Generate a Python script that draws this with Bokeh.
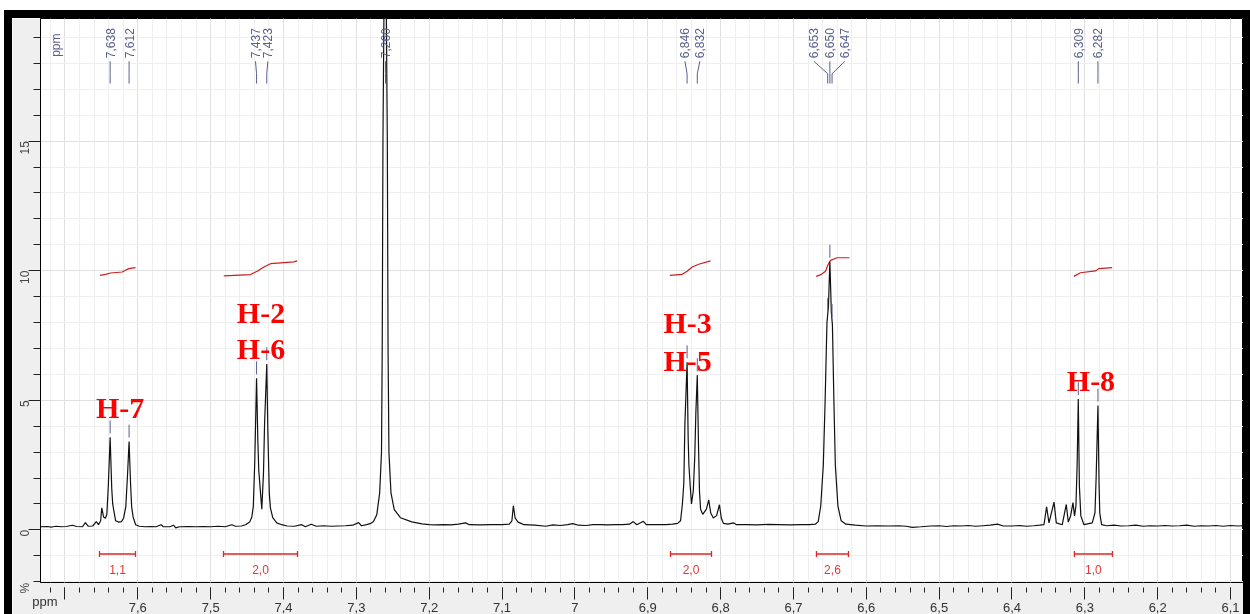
import math
import numpy as np
from bokeh.plotting import figure
from bokeh.models import Range1d, FixedTicker, CustomJSTickFormatter, Label
from bokeh.core.properties import value
from bokeh.embed import file_html
from bokeh.resources import INLINE

# ---------------- data ----------------
spectrum_ppm = [
    7.734, 7.725, 7.718, 7.712, 7.705, 7.698, 7.690, 7.684, 7.676, 7.672, 7.668, 7.662, 7.657, 7.654,
    7.651, 7.6495, 7.647, 7.6445, 7.6425, 7.6405, 7.638, 7.6358, 7.6345, 7.633, 7.6305, 7.626, 7.6225,
    7.6195, 7.6165, 7.614, 7.612, 7.610, 7.6085, 7.6065, 7.603, 7.598, 7.590, 7.582, 7.575, 7.568,
    7.565, 7.556, 7.551, 7.548, 7.543, 7.530, 7.520, 7.510, 7.500, 7.490, 7.480, 7.471, 7.466, 7.458,
    7.452, 7.4465, 7.4435, 7.4415, 7.4395, 7.437, 7.4352, 7.434, 7.4315, 7.4298, 7.4275, 7.426, 7.423,
    7.4215, 7.4195, 7.418, 7.4148, 7.4093, 7.4025, 7.395, 7.385, 7.375, 7.370, 7.362, 7.355, 7.345,
    7.335, 7.325, 7.315, 7.305, 7.297, 7.293, 7.286, 7.281, 7.2765, 7.272, 7.268, 7.2655, 7.2645,
    7.2635, 7.2605, 7.2575, 7.2565, 7.2553, 7.2525, 7.248, 7.2395, 7.224, 7.210, 7.200, 7.190, 7.180,
    7.170, 7.160, 7.150, 7.145, 7.130, 7.115, 7.100, 7.090, 7.0865, 7.0845, 7.082, 7.078, 7.074, 7.070,
    7.055, 7.040, 7.030, 7.020, 7.010, 7.003, 6.995, 6.985, 6.975, 6.965, 6.955, 6.945, 6.935, 6.925,
    6.920, 6.915, 6.906, 6.902, 6.890, 6.875, 6.866, 6.859, 6.855, 6.8525, 6.8505, 6.849, 6.846,
    6.8445, 6.8435, 6.8415, 6.840, 6.8375, 6.8355, 6.834, 6.832, 6.8305, 6.829, 6.8275, 6.8245,
    6.8195, 6.8163, 6.8135, 6.810, 6.8055, 6.8016, 6.799, 6.796, 6.790, 6.782, 6.778, 6.765, 6.750,
    6.735, 6.720, 6.705, 6.690, 6.678, 6.670, 6.666, 6.6625, 6.659, 6.6565, 6.654, 6.652, 6.650,
    6.648, 6.6465, 6.6445, 6.6425, 6.639, 6.6345, 6.628, 6.615, 6.600, 6.585, 6.570, 6.555, 6.545,
    6.537, 6.525, 6.512, 6.500, 6.490, 6.480, 6.470, 6.460, 6.450, 6.440, 6.430, 6.420, 6.412, 6.400,
    6.390, 6.380, 6.370, 6.362, 6.3561, 6.3525, 6.3492, 6.3423, 6.3392, 6.331, 6.3255, 6.3227,
    6.3195, 6.3163, 6.3141, 6.3122, 6.3105, 6.309, 6.3075, 6.3055, 6.3012, 6.2898, 6.2861, 6.2845,
    6.282, 6.2805, 6.2795, 6.277, 6.270, 6.260, 6.250, 6.240, 6.230, 6.220, 6.210, 6.200, 6.190,
    6.180, 6.170, 6.160, 6.150, 6.140, 6.130, 6.120, 6.110, 6.100, 6.090, 6.082,
]
spectrum_intensity = [
    0.12, 0.13, 0.11, 0.14, 0.12, 0.13, 0.18, 0.13, 0.12, 0.28, 0.14, 0.15, 0.32, 0.20,
    0.35, 0.85, 0.50, 0.45, 0.60, 1.70, 3.57, 1.60, 1.00, 0.75, 0.35, 0.30, 0.32,
    0.45, 0.90, 2.20, 3.41, 1.80, 0.90, 0.50, 0.20, 0.14, 0.12, 0.13, 0.12, 0.20,
    0.12, 0.12, 0.18, 0.08, 0.12, 0.13, 0.12, 0.13, 0.12, 0.14, 0.12, 0.20, 0.14, 0.15,
    0.20, 0.30, 0.50, 0.90, 2.60, 5.85, 3.40, 2.30, 1.40, 0.80, 2.20, 4.10, 6.40,
    3.80, 1.40, 0.85, 0.47, 0.27, 0.20, 0.15, 0.14, 0.20, 0.12, 0.22, 0.14, 0.16,
    0.14, 0.15, 0.16, 0.18, 0.28, 0.16, 0.20, 0.24, 0.32, 0.58, 1.43, 3.00, 7.00,
    15.0, 26.0, 15.0, 7.00, 3.00, 1.43, 0.78, 0.47, 0.31, 0.23, 0.20, 0.19, 0.20,
    0.19, 0.22, 0.27, 0.20, 0.19, 0.20, 0.20, 0.22, 0.35, 0.93, 0.45, 0.30, 0.25, 0.20,
    0.18, 0.14, 0.19, 0.17, 0.20, 0.24, 0.18, 0.17, 0.20, 0.20, 0.19, 0.20, 0.20, 0.22,
    0.32, 0.20, 0.33, 0.20, 0.20, 0.20, 0.22, 0.25, 0.35, 0.97, 1.80, 4.10, 6.47,
    3.50, 2.50, 1.60, 1.00, 1.50, 2.80, 4.50, 5.97, 3.50, 1.50, 0.80, 0.60,
    0.80, 1.16, 0.65, 0.46, 0.55, 0.97, 0.45, 0.25, 0.22, 0.27, 0.20, 0.20, 0.19,
    0.21, 0.20, 0.19, 0.20, 0.20, 0.22, 0.32, 0.93, 2.50, 5.00, 8.00, 8.60, 10.35,
    8.40, 7.90, 5.00, 2.50, 0.93, 0.35, 0.22, 0.18, 0.15, 0.16, 0.15, 0.16, 0.14,
    0.10, 0.12, 0.15, 0.16, 0.13, 0.16, 0.15, 0.17, 0.14, 0.16, 0.18, 0.22, 0.15, 0.15,
    0.17, 0.14, 0.16, 0.18, 0.20, 0.89, 0.27, 1.07, 0.27, 0.20, 0.98, 0.30,
    0.54, 1.05, 0.54, 0.93, 2.60, 5.05, 1.70, 0.54, 0.20, 0.27, 0.66, 2.00,
    4.80, 1.80, 0.66, 0.20, 0.16, 0.18, 0.15, 0.16, 0.18, 0.14, 0.16, 0.15, 0.17,
    0.15, 0.16, 0.18, 0.14, 0.16, 0.15, 0.17, 0.14, 0.17, 0.15, 0.16,
]

# picked peaks (top labels)
peak_ppm = [7.638, 7.612, 7.437, 7.423, 7.260, 6.846, 6.832, 6.653, 6.650, 6.647, 6.309, 6.282]
peak_text = ["7,638", "7,612", "7,437", "7,423", "7,260", "6,846", "6,832",
             "6,653", "6,650", "6,647", "6,309", "6,282"]
peak_label_ppm = [7.638, 7.612, 7.4385, 7.4215, 7.260, 6.849, 6.8285,
                  6.672, 6.650, 6.6294, 6.309, 6.282]

# integral curves (ppm, running integral as drawn)
integral_ppm = [
    [7.6519, 7.6443, 7.6375, 7.6214, 7.6169, 7.6124, 7.6032],
    [7.4820, 7.4453, 7.4361, 7.4270, 7.4178, 7.3859, 7.3812],
    [6.8697, 6.8527, 6.8459, 6.8390, 6.8300, 6.8139],
    [6.6688, 6.6615, 6.6560, 6.6529, 6.6492, 6.6400, 6.6231],
    [6.3152, 6.3060, 6.2854, 6.2808, 6.2625],
]
integral_curve = [
    [9.82, 9.86, 9.91, 9.95, 10.02, 10.08, 10.12],
    [9.80, 9.85, 9.98, 10.14, 10.27, 10.34, 10.38],
    [9.82, 9.86, 9.98, 10.14, 10.25, 10.38],
    [9.78, 9.86, 9.98, 10.21, 10.40, 10.50, 10.50],
    [9.78, 9.92, 9.99, 10.08, 10.12],
]
integral_start = [7.6526, 7.4824, 6.8688, 6.6684, 6.3143]
integral_end = [7.6032, 7.3808, 6.8125, 6.6245, 6.2621]
integral_value = ["1,1", "2,0", "2,0", "2,6", "1,0"]

# assignments
assign_text = ["H-7", "H-2", "H-6", "H-3", "H-5", "H-8"]
assign_ppm = [7.6242, 7.4309, 7.4309, 6.8452, 6.8452, 6.2916]
assign_y = [4.72, 8.40, 6.98, 7.99, 6.53, 5.76]

# axes
x_ticks = [7.7, 7.6, 7.5, 7.4, 7.3, 7.2, 7.1, 7.0, 6.9, 6.8, 6.7, 6.6, 6.5, 6.4, 6.3, 6.2, 6.1]
x_tick_labels = ["", "7,6", "7,5", "7,4", "7,3", "7,2", "7,1", "7", "6,9", "6,8", "6,7",
                 "6,6", "6,5", "6,4", "6,3", "6,2", "6,1"]
y_ticks = [0, 5, 10, 15]
y_tick_labels = ["0", "5", "10", "15"]

X_START, X_END = 7.7336, 6.0822
Y_START, Y_END = -2.03, 19.73

# ---------------- figure ----------------
p = figure(width=1231, height=622,
           x_range=Range1d(X_START, X_END), y_range=Range1d(Y_START, Y_END),
           output_backend="svg", toolbar_location=None,
           min_border_left=28, min_border_right=0, min_border_top=0, min_border_bottom=34,
           background_fill_color="white", border_fill_color="#efefef",
           outline_line_color="black", outline_line_width=1)
p.styles = {"position": "fixed", "left": "12px", "top": "18px",
            "box-shadow": "-8px -8px 0 0 black, 7px -8px 0 0 black, -8px 0 0 0 black, 7px 0 0 0 black"}

x_minor = [round(7.74 - 0.02 * i, 2) for i in range(84)]
y_minor = list(range(-2, 20))

p.xaxis.ticker = FixedTicker(ticks=x_ticks, minor_ticks=x_minor)
p.yaxis.ticker = FixedTicker(ticks=y_ticks, minor_ticks=y_minor)
fmt_code = """
const i = tvals.findIndex(t => Math.abs(t - tick) < 1e-6);
return i >= 0 ? tlabels[i] : '';
"""
p.xaxis.formatter = CustomJSTickFormatter(args=dict(tvals=x_ticks, tlabels=x_tick_labels), code=fmt_code)
p.yaxis.formatter = CustomJSTickFormatter(args=dict(tvals=y_ticks, tlabels=y_tick_labels), code=fmt_code)

for ax in (p.xaxis[0], p.yaxis[0]):
    ax.major_label_text_font = "Liberation Sans"
    ax.major_tick_line_color = "#222222"
    ax.minor_tick_line_color = "#222222"

p.xaxis.axis_line_color = None
p.xaxis.major_tick_in = -5
p.xaxis.major_tick_out = 17
p.xaxis.minor_tick_in = -5
p.xaxis.minor_tick_out = 10
p.xaxis.major_label_standoff = 3
p.xaxis.major_label_text_font_size = "13px"
p.xaxis.major_label_text_color = "#333333"

p.yaxis.axis_line_color = "black"
p.yaxis.major_tick_in = 0
p.yaxis.major_tick_out = 12
p.yaxis.minor_tick_in = 0
p.yaxis.minor_tick_out = 7
p.yaxis.major_label_orientation = math.pi / 2
p.yaxis.major_label_standoff = 4
p.yaxis.major_label_text_font_size = "12px"
p.yaxis.major_label_text_color = "#444444"

p.xgrid.grid_line_color = "#e0e0e0"
p.xgrid.minor_grid_line_color = "#efefef"
p.ygrid.grid_line_color = "#e0e0e0"
p.ygrid.minor_grid_line_color = "#efefef"

red = "#d82a2a"
# integral curves
p.multi_line(xs=integral_ppm, ys=integral_curve, line_color="#cc1f1f", line_width=1.2)

# integral range bars
bar_y = -0.93
cap = 0.12
p.segment(x0=integral_start, y0=[bar_y] * 5, x1=integral_end, y1=[bar_y] * 5, line_color=red, line_width=1.3)
p.segment(x0=integral_start, y0=[bar_y - cap] * 5, x1=integral_start, y1=[bar_y + cap] * 5, line_color=red, line_width=1.3)
p.segment(x0=integral_end, y0=[bar_y - cap] * 5, x1=integral_end, y1=[bar_y + cap] * 5, line_color=red, line_width=1.3)
mid = [(a + b) / 2 for a, b in zip(integral_start, integral_end)]
p.text(x=mid, y=[-1.51] * 5, text=integral_value, text_color="#e03a3a",
       text_font=value("Liberation Sans"), text_font_size="12px",
       text_align="center", text_baseline="middle")

# spectrum
p.line(spectrum_ppm, spectrum_intensity, line_color="#111111", line_width=1.2)

# peak markers above apex
slate = "#5a5f8c"
heights = np.interp(peak_ppm, spectrum_ppm[::-1], spectrum_intensity[::-1])
mk = [i for i, h in enumerate(heights) if h < 19]
p.segment(x0=[peak_ppm[i] for i in mk], y0=[heights[i] + 0.15 for i in mk],
          x1=[peak_ppm[i] for i in mk], y1=[heights[i] + 0.65 for i in mk],
          line_color=slate, line_width=1)

# connectors from labels to peaks
p.multi_line(xs=[[lx, px, px] for lx, px in zip(peak_label_ppm, peak_ppm)],
             ys=[[18.08, 17.6, 17.22] for _ in peak_ppm],
             line_color=slate, line_width=1)
p.text(x=peak_label_ppm, y=[18.2] * len(peak_ppm), text=peak_text, angle=math.pi / 2,
       text_color=slate, text_font=value("Liberation Sans"), text_font_size="12px",
       text_align="left", text_baseline="middle")
p.text(x=[7.713], y=[18.25], text=["ppm"], angle=math.pi / 2,
       text_color=slate, text_font=value("Liberation Sans"), text_font_size="12px",
       text_align="left", text_baseline="middle")

# assignments
p.text(x=assign_ppm, y=assign_y, text=assign_text, text_color="#ff0000",
       text_font=value("Liberation Serif"), text_font_style="bold", text_font_size="30px",
       text_align="center", text_baseline="alphabetic")

# unit labels in the bottom panel (not clipped to the frame)
p.add_layout(Label(x=7.7274, y=-2.77, text="ppm", text_align="center",
                   text_baseline="middle", text_font_size="13px", text_color="#333333",
                   text_font="Liberation Sans"), "below")
p.add_layout(Label(x=7.7555, y=-2.25, text="%", angle=math.pi / 2, text_align="center",
                   text_baseline="middle", text_font_size="12px", text_color="#444444",
                   text_font="Liberation Sans"), "below")

open("out.html", "w").write(file_html(p, INLINE))
